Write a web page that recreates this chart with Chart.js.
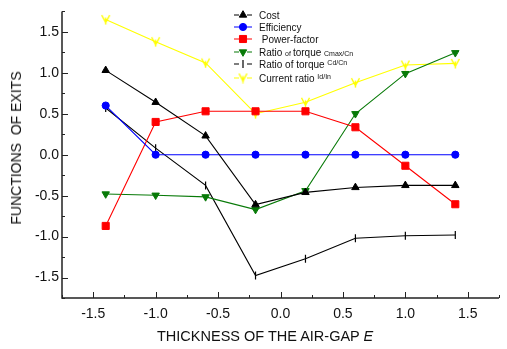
<!DOCTYPE html>
<html>
<head>
<meta charset="utf-8">
<script src="https://cdn.jsdelivr.net/npm/chart.js@4.4.0/dist/chart.umd.min.js"></script>
<style>
  body { margin: 0; background: #fff; }
  #wrap { position: relative; width: 507px; height: 349px; font-family: "Liberation Sans", Arial, sans-serif; }
  #yTitle { position: absolute; left: 16px; top: 148px; transform: translate(-50%, -50%) rotate(-90deg); font-size: 14px; white-space: pre; color: #111; }
  #xTitle { position: absolute; left: 157px; top: 328px; font-size: 14.5px; white-space: pre; color: #111; }
</style>
</head>
<body>
<div id="wrap">
  <canvas id="chart" width="507" height="349"></canvas>
  <div id="yTitle">FUNCTIONS  OF EXITS</div>
  <div id="xTitle">THICKNESS OF THE AIR-GAP <i>E</i></div>
</div>
<script>
// values
const xValues = [-1.4, -1.0, -0.6, -0.2, 0.2, 0.6, 1.0, 1.4];
const costValues = [1.03, 0.64, 0.23, -0.61, -0.46, -0.40, -0.375, -0.375];
const efficiencyValues = [0.60, 0.0, 0.0, 0.0, 0.0, 0.0, 0.0, 0.0];
const powerFactorValues = [-0.87, 0.40, 0.53, 0.53, 0.53, 0.335, -0.135, -0.605];
const torqueMaxValues = [-0.48, -0.495, -0.515, -0.67, -0.44, 0.50, 0.99, 1.245];
const torqueStartValues = [0.57, 0.08, -0.375, -1.475, -1.27, -1.02, -0.99, -0.98];
const currentValues = [1.65, 1.38, 1.12, 0.50, 0.64, 0.88, 1.095, 1.115];
const axisMin = -1.75;
const axisMax = 1.75;
const labelStep = 0.5;
const tickStep = 0.25;

const FONT = '"Liberation Sans", Arial, sans-serif';

// yellow "V" marker
function makeVMarker(color) {
  const c = document.createElement('canvas');
  c.width = 11; c.height = 11;
  const g = c.getContext('2d');
  g.strokeStyle = color;
  g.lineWidth = 1.4;
  g.beginPath();
  g.moveTo(1.5, 1); g.lineTo(5.5, 8.5); g.lineTo(9.5, 1);
  g.moveTo(5.5, 3.5); g.lineTo(5.5, 10.5);
  g.stroke();
  return c;
}
const vMarker = makeVMarker('#ffff00');

function toPoints(ys) {
  return xValues.map((x, i) => ({ x: x, y: ys[i] }));
}

const series = [
  { label: 'Cost', data: costValues, color: '#000000', style: 'triangle', rot: 0, r: 4.3 },
  { label: 'Efficiency', data: efficiencyValues, color: '#0000ff', style: 'circle', rot: 0, r: 3.6 },
  { label: 'Power-factor', data: powerFactorValues, color: '#ff0000', style: 'rect', rot: 0, r: 5 },
  { label: 'Ratio of torque Cmax/Cn', data: torqueMaxValues, color: '#087a08', style: 'triangle', rot: 180, r: 4.3 },
  { label: 'Ratio of torque Cd/Cn', data: torqueStartValues, color: '#000000', style: 'line', rot: 90, r: 4 },
  { label: 'Current ratio Id/In', data: currentValues, color: '#ffff00', style: vMarker, rot: 0, r: 5 }
];

const legendRows = [
  [{ t: 'Cost', s: 10 }],
  [{ t: 'Efficiency', s: 10 }],
  [{ t: ' Power-factor', s: 10 }],
  [{ t: 'Ratio ', s: 10 }, { t: 'of ', s: 7 }, { t: 'torque ', s: 10 }, { t: 'Cmax/Cn', s: 7 }],
  [{ t: 'Ratio of torque ', s: 10 }, { t: 'Cd/Cn', s: 7, up: 3 }],
  [{ t: 'Current ratio ', s: 10 }, { t: 'Id/In', s: 7, up: 3 }]
];
const legendY = [15, 27, 39, 52, 64, 78];

const frame = {
  id: 'frame',
  afterDraw(chart) {
    const ctx = chart.ctx;
    const xs = chart.scales.x, ys = chart.scales.y;
    const a = chart.chartArea;
    ctx.save();
    ctx.strokeStyle = '#222';
    ctx.lineWidth = 1.5;
    ctx.beginPath();
    ctx.moveTo(a.left, a.top);
    ctx.lineTo(a.left, a.bottom);
    ctx.lineTo(a.right, a.bottom);
    ctx.stroke();
    ctx.lineWidth = 1;
    ctx.beginPath();
    for (let v = axisMin; v <= axisMax + 1e-9; v += tickStep) {
      const major = Math.abs(v / labelStep - Math.round(v / labelStep)) < 1e-6;
      const len = major ? 6 : 3;
      const px = Math.round(xs.getPixelForValue(v)) + 0.5;
      ctx.moveTo(px, a.bottom);
      ctx.lineTo(px, a.bottom - len);
      const py = Math.round(ys.getPixelForValue(v)) + 0.5;
      ctx.moveTo(a.left, py);
      ctx.lineTo(a.left + len, py);
    }
    ctx.stroke();
    ctx.restore();
  },
  afterDatasetsDraw(chart) {
    const ctx = chart.ctx;
    ctx.save();
    series.forEach((s, i) => {
      const y = legendY[i];
      ctx.strokeStyle = s.color;
      ctx.lineWidth = 1.2;
      ctx.beginPath();
      ctx.moveTo(234, y); ctx.lineTo(239, y);
      ctx.moveTo(247, y); ctx.lineTo(252, y);
      ctx.stroke();
      ctx.fillStyle = s.color;
      ctx.strokeStyle = s.color;
      ctx.lineWidth = s.style === 'line' ? 1.2 : 1;
      Chart.helpers.drawPoint(ctx, { pointStyle: s.style, rotation: s.rot, radius: s.r, borderWidth: 1 }, 243, y);
      let x = 259;
      ctx.fillStyle = '#111';
      ctx.textBaseline = 'alphabetic';
      legendRows[i].forEach(p => {
        ctx.font = p.s + 'px ' + FONT;
        ctx.fillText(p.t, x, y + 3.5 - (p.up || 0));
        x += ctx.measureText(p.t).width;
      });
    });
    ctx.restore();
  }
};

function tickLabel(v) {
  if (Math.abs(v / labelStep - Math.round(v / labelStep)) > 1e-6) return '';
  return v.toFixed(1);
}

new Chart(document.getElementById('chart'), {
  type: 'line',
  data: {
    datasets: series.map(s => ({
      label: s.label,
      data: toPoints(s.data),
      borderColor: s.color,
      backgroundColor: s.color,
      borderWidth: 1.1,
      pointStyle: s.style,
      rotation: s.rot,
      pointRadius: s.r,
      pointBorderWidth: s.style === 'line' ? 1.2 : 1,
      pointBackgroundColor: s.color,
      pointBorderColor: s.color,
      tension: 0
    }))
  },
  plugins: [frame],
  options: {
    responsive: false,
    animation: false,
    events: [],
    layout: { padding: { top: 8, right: 0, left: 0, bottom: 0 } },
    plugins: { legend: { display: false }, tooltip: { enabled: false } },
    scales: {
      x: {
        type: 'linear',
        min: axisMin,
        max: axisMax,
        afterFit(scale) { scale.height = 51; },
        grid: { display: false, drawTicks: false },
        border: { display: false },
        ticks: {
          stepSize: tickStep,
          autoSkip: false,
          maxRotation: 0,
          padding: 8,
          color: '#111',
          font: { family: FONT, size: 14 },
          callback: tickLabel
        }
      },
      y: {
        type: 'linear',
        min: axisMin,
        max: axisMax,
        afterFit(scale) { scale.width = 62; },
        grid: { display: false, drawTicks: false },
        border: { display: false },
        ticks: {
          stepSize: tickStep,
          autoSkip: false,
          padding: 3,
          color: '#111',
          font: { family: FONT, size: 14 },
          callback: tickLabel
        }
      }
    }
  }
});
</script>
</body>
</html>
